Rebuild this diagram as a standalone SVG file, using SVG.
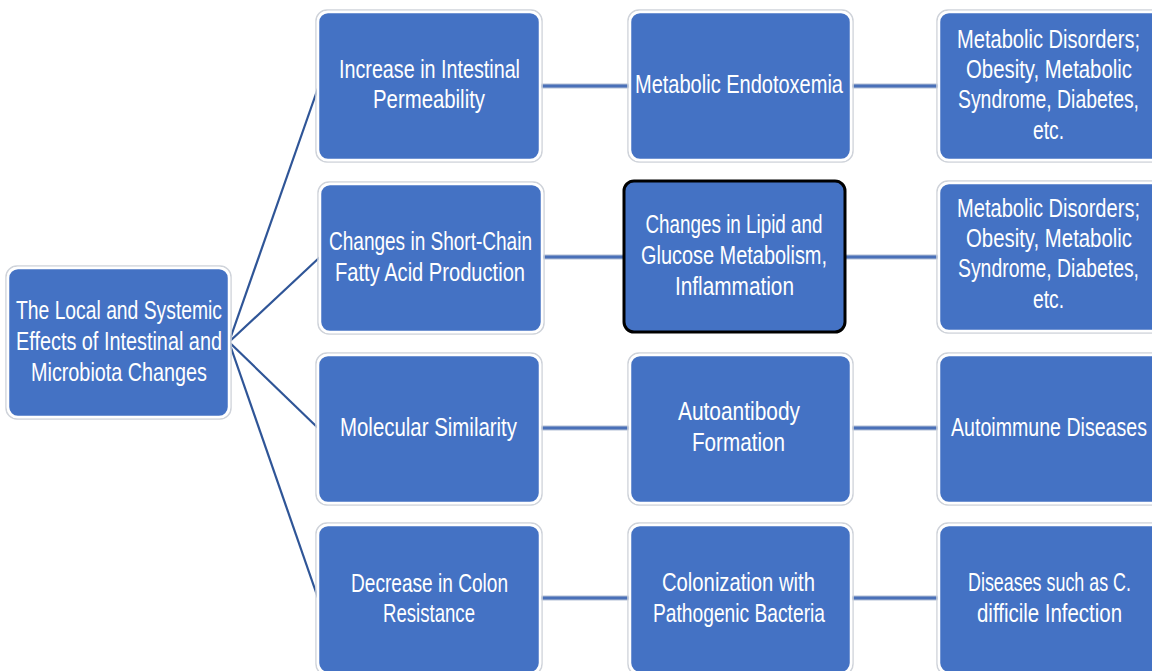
<svg xmlns="http://www.w3.org/2000/svg" width="1152" height="671" viewBox="0 0 1152 671">
<style>
.halo{fill:none;stroke:#cfd3da;stroke-width:1.5}
.box{fill:#4472C4;stroke:#ffffff;stroke-width:2.5}
.sel{fill:#4472C4;stroke:#000000;stroke-width:3}
.t{font-family:"Liberation Sans Narrow","Liberation Sans",Arial,sans-serif;font-size:25px;fill:#ffffff;text-anchor:middle}
.fan{stroke:#2F5597;stroke-width:2.2;fill:none}
.hl0{stroke:#b4c0d6;stroke-width:5;fill:none}
.hl{stroke:#4A70B8;stroke-width:2.8;fill:none}
</style>
<rect width="1152" height="671" fill="#ffffff"/>
<g id="connectors">
<line class="fan" x1="229" y1="342" x2="318" y2="88"/>
<line class="fan" x1="229" y1="342" x2="320" y2="257"/>
<line class="fan" x1="229" y1="342" x2="318" y2="428"/>
<line class="fan" x1="229" y1="342" x2="318" y2="598"/>
<g class="hl0">
<line x1="540" y1="86" x2="630" y2="86"/><line x1="851" y1="86" x2="939" y2="86"/>
<line x1="543" y1="257" x2="624" y2="257"/><line x1="845" y1="257" x2="939" y2="257"/>
<line x1="540" y1="428" x2="630" y2="428"/><line x1="851" y1="428" x2="939" y2="428"/>
<line x1="540" y1="598" x2="630" y2="598"/><line x1="851" y1="598" x2="939" y2="598"/>
</g>
<g class="hl">
<line x1="540" y1="86" x2="630" y2="86"/><line x1="851" y1="86" x2="939" y2="86"/>
<line x1="543" y1="257" x2="624" y2="257"/><line x1="845" y1="257" x2="939" y2="257"/>
<line x1="540" y1="428" x2="630" y2="428"/><line x1="851" y1="428" x2="939" y2="428"/>
<line x1="540" y1="598" x2="630" y2="598"/><line x1="851" y1="598" x2="939" y2="598"/>
</g>
</g>
<g id="root">
<rect class="halo" x="6" y="266" width="225" height="153" rx="11"/>
<rect class="box" x="8" y="268" width="221" height="149" rx="10"/>
<text class="t" x="119" y="319" textLength="206" lengthAdjust="spacingAndGlyphs">The Local and Systemic</text>
<text class="t" x="119" y="350" textLength="206" lengthAdjust="spacingAndGlyphs">Effects of Intestinal and</text>
<text class="t" x="119" y="381" textLength="176" lengthAdjust="spacingAndGlyphs">Microbiota Changes</text>
</g>
<g id="n-permeability">
<rect class="halo" x="316" y="10" width="226" height="152" rx="11"/>
<rect class="box" x="318" y="12" width="222" height="148" rx="10"/>
<text class="t" x="429.5" y="78" textLength="181" lengthAdjust="spacingAndGlyphs">Increase in Intestinal</text>
<text class="t" x="429" y="108" textLength="112" lengthAdjust="spacingAndGlyphs">Permeability</text>
</g>
<g id="n-scfa">
<rect class="halo" x="318" y="182" width="226" height="152" rx="11"/>
<rect class="box" x="320" y="184" width="222" height="148" rx="10"/>
<text class="t" x="430.5" y="250" textLength="203" lengthAdjust="spacingAndGlyphs">Changes in Short-Chain</text>
<text class="t" x="430" y="281" textLength="190" lengthAdjust="spacingAndGlyphs">Fatty Acid Production</text>
</g>
<g id="n-molecular">
<rect class="halo" x="316" y="353" width="226" height="152" rx="11"/>
<rect class="box" x="318" y="355" width="222" height="148" rx="10"/>
<text class="t" x="428.5" y="436" textLength="177" lengthAdjust="spacingAndGlyphs">Molecular Similarity</text>
</g>
<g id="n-colon">
<rect class="halo" x="316" y="523" width="226" height="152" rx="11"/>
<rect class="box" x="318" y="525" width="222" height="148" rx="10"/>
<text class="t" x="429.5" y="592" textLength="157" lengthAdjust="spacingAndGlyphs">Decrease in Colon</text>
<text class="t" x="429" y="622" textLength="92" lengthAdjust="spacingAndGlyphs">Resistance</text>
</g>
<g id="n-endotoxemia">
<rect class="halo" x="628" y="10" width="225" height="152" rx="11"/>
<rect class="box" x="630" y="12" width="221" height="148" rx="10"/>
<text class="t" x="739" y="93" textLength="208" lengthAdjust="spacingAndGlyphs">Metabolic Endotoxemia</text>
</g>
<g id="n-lipid">
<rect class="sel" x="624" y="181" width="221" height="151" rx="10"/>
<text class="t" x="734" y="233" textLength="177" lengthAdjust="spacingAndGlyphs">Changes in Lipid and</text>
<text class="t" x="734" y="264" textLength="186" lengthAdjust="spacingAndGlyphs">Glucose Metabolism,</text>
<text class="t" x="734.5" y="295" textLength="119" lengthAdjust="spacingAndGlyphs">Inflammation</text>
</g>
<g id="n-autoantibody">
<rect class="halo" x="628" y="353" width="225" height="152" rx="11"/>
<rect class="box" x="630" y="355" width="221" height="148" rx="10"/>
<text class="t" x="739" y="420" textLength="122" lengthAdjust="spacingAndGlyphs">Autoantibody</text>
<text class="t" x="738.5" y="451" textLength="93" lengthAdjust="spacingAndGlyphs">Formation</text>
</g>
<g id="n-colonization">
<rect class="halo" x="628" y="523" width="225" height="152" rx="11"/>
<rect class="box" x="630" y="525" width="221" height="148" rx="10"/>
<text class="t" x="738.5" y="591" textLength="153" lengthAdjust="spacingAndGlyphs">Colonization with</text>
<text class="t" x="739" y="622" textLength="172" lengthAdjust="spacingAndGlyphs">Pathogenic Bacteria</text>
</g>
<g id="n-metabolic1">
<rect class="halo" x="937" y="10" width="229" height="152" rx="11"/>
<rect class="box" x="939" y="12" width="225" height="148" rx="10"/>
<text class="t" x="1048.5" y="48" textLength="183" lengthAdjust="spacingAndGlyphs">Metabolic Disorders;</text>
<text class="t" x="1049" y="78" textLength="166" lengthAdjust="spacingAndGlyphs">Obesity, Metabolic</text>
<text class="t" x="1048.5" y="108" textLength="181" lengthAdjust="spacingAndGlyphs">Syndrome, Diabetes,</text>
<text class="t" x="1048.5" y="139" textLength="31" lengthAdjust="spacingAndGlyphs">etc.</text>
</g>
<g id="n-metabolic2">
<rect class="halo" x="937" y="181" width="229" height="152" rx="11"/>
<rect class="box" x="939" y="183" width="225" height="148" rx="10"/>
<text class="t" x="1048.5" y="217" textLength="183" lengthAdjust="spacingAndGlyphs">Metabolic Disorders;</text>
<text class="t" x="1049" y="247" textLength="166" lengthAdjust="spacingAndGlyphs">Obesity, Metabolic</text>
<text class="t" x="1048.5" y="277" textLength="181" lengthAdjust="spacingAndGlyphs">Syndrome, Diabetes,</text>
<text class="t" x="1048.5" y="308" textLength="31" lengthAdjust="spacingAndGlyphs">etc.</text>
</g>
<g id="n-autoimmune">
<rect class="halo" x="937" y="353" width="229" height="152" rx="11"/>
<rect class="box" x="939" y="355" width="225" height="148" rx="10"/>
<text class="t" x="1049" y="436" textLength="196" lengthAdjust="spacingAndGlyphs">Autoimmune Diseases</text>
</g>
<g id="n-cdiff">
<rect class="halo" x="937" y="523" width="229" height="152" rx="11"/>
<rect class="box" x="939" y="525" width="225" height="148" rx="10"/>
<text class="t" x="1049.5" y="591" textLength="163" lengthAdjust="spacingAndGlyphs">Diseases such as C.</text>
<text class="t" x="1049.5" y="622" textLength="145" lengthAdjust="spacingAndGlyphs">difficile Infection</text>
</g>
</svg>
